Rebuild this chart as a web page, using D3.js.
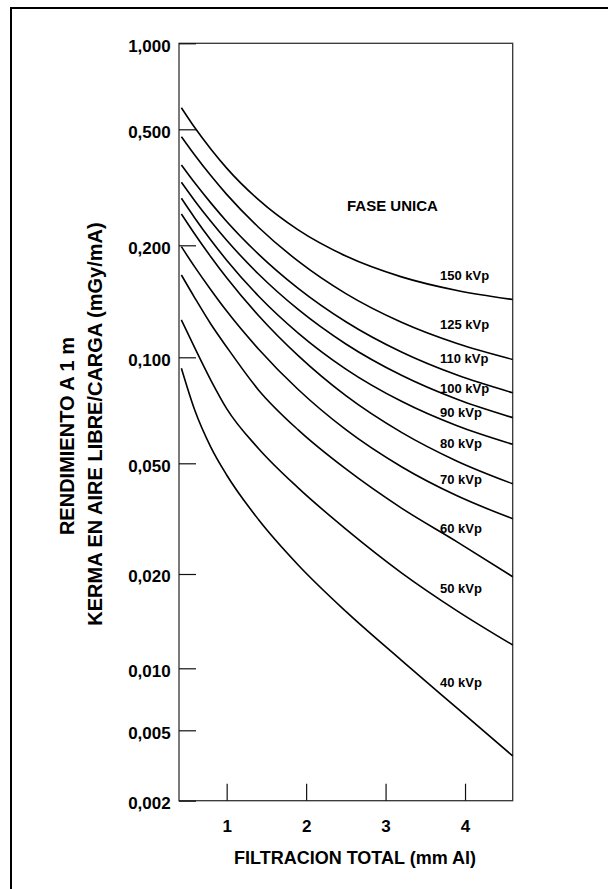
<!DOCTYPE html>
<html><head><meta charset="utf-8">
<script src="https://cdn.jsdelivr.net/npm/d3@7"></script>
<style>
body{margin:0;background:#fff}
svg{display:block}
text{font-family:"Liberation Sans",Arial,Helvetica,sans-serif;font-weight:bold;fill:#000}
</style></head><body>
<svg id="chart" width="608" height="889"></svg>
<script>
// ---------- DATA ----------
const filtration = [0.43, 0.6, 0.8, 1.0, 1.4, 1.9, 2.5, 3.2, 3.9, 4.6]; // mm Al
const kv150 = [0.595, 0.506, 0.428, 0.368, 0.2867, 0.2258, 0.1871, 0.1645, 0.1512, 0.1430];
const kv125 = [0.4716, 0.4072, 0.3468, 0.2990, 0.2307, 0.1813, 0.1483, 0.1242, 0.1089, 0.0986];
const kv110 = [0.3772, 0.3269, 0.2796, 0.2415, 0.1894, 0.1532, 0.1246, 0.1033, 0.0890, 0.0793];
const kv100 = [0.3290, 0.2840, 0.2418, 0.2081, 0.1675, 0.1345, 0.1086, 0.0889, 0.0760, 0.0674];
const kv90  = [0.2899, 0.2478, 0.2086, 0.1824, 0.1462, 0.1162, 0.0926, 0.0750, 0.0639, 0.0566];
const kv80  = [0.2561, 0.2182, 0.1863, 0.1635, 0.1295, 0.1010, 0.0778, 0.0612, 0.0507, 0.0422];
const kv70  = [0.1983, 0.1747, 0.1519, 0.1331, 0.1053, 0.0810, 0.0623, 0.0486, 0.0382, 0.0316];
const kv60  = [0.1664, 0.1443, 0.1229, 0.1066, 0.0808, 0.0622, 0.0477, 0.0345, 0.0261, 0.0196];
const kv50  = [0.1260, 0.1059, 0.0862, 0.0715, 0.0551, 0.0408, 0.0290, 0.0202, 0.01526, 0.01187];
const kv40  = [0.0931, 0.0706, 0.0556, 0.0454, 0.0314, 0.02155, 0.01519, 0.01060, 0.00640, 0.00358];
const seriesNames = ["150 kVp","125 kVp","110 kVp","100 kVp","90 kVp","80 kVp","70 kVp","60 kVp","50 kVp","40 kVp"];
const seriesValues = [kv150, kv125, kv110, kv100, kv90, kv80, kv70, kv60, kv50, kv40];

const yTicks = [1, 0.5, 0.2, 0.1, 0.05, 0.02, 0.01, 0.005, 0.002];
const yTickLabels = ["1,000","0,500","0,200","0,100","0,050","0,020","0,010","0,005","0,002"];
const xTicks = [1, 2, 3, 4];
const xTickLabels = ["1","2","3","4"];
const xDomain = [0.4, 4.6];

const xTitle = "FILTRACION TOTAL (mm Al)";
const yTitle1 = "RENDIMIENTO A 1 m";
const yTitle2 = "KERMA EN AIRE LIBRE/CARGA (mGy/mA)";
const noteText = "FASE UNICA";

// ---------- LAYOUT ----------
const plot = {left: 179, right: 512.7, top: 43.3, bottom: 800.7};
// the printed value axis is irregular: pixel position of each printed tick
const yTickPos = [43.3, 129.3, 245.3, 357.3, 463.3, 574, 668.3, 730.3, 800.7];
const labelX = 440;
const labelBaselines = [280, 329, 362.5, 393, 417, 447.5, 484, 532.7, 593.3, 687.3];

const svg = d3.select("#chart");

// page frame
svg.append("rect").attr("x", 11).attr("y", 8).attr("width", 700).attr("height", 1000)
  .attr("fill", "none").attr("stroke", "#000").attr("stroke-width", 2);

const x = d3.scaleLinear().domain(xDomain).range([plot.left, plot.right]);
const y = d3.scaleLog().domain(yTicks).range(yTickPos); // piecewise log

// plot box
svg.append("rect").attr("x", plot.left).attr("y", plot.top)
  .attr("width", plot.right - plot.left).attr("height", plot.bottom - plot.top)
  .attr("fill", "none").attr("stroke", "#333").attr("stroke-width", 1.3);

// y axis (inner ticks)
const yAxis = d3.axisLeft(y).tickValues(yTicks).tickSize(-17).tickSizeOuter(0)
  .tickFormat((d, i) => yTickLabels[i]).tickPadding(8.3);
const gy = svg.append("g").attr("transform", `translate(${plot.left},0)`).call(yAxis);
gy.select(".domain").remove();
gy.selectAll(".tick line").attr("stroke", "#111").attr("stroke-width", 1.2);
gy.selectAll(".tick text").attr("dy", null).attr("y", 7.8)
  .style("font-size", "17px").style("font-family", null).attr("fill", "#000");

// x axis (inner ticks)
const xAxis = d3.axisBottom(x).tickValues(xTicks).tickSize(-17).tickSizeOuter(0)
  .tickFormat((d, i) => xTickLabels[i]);
const gx = svg.append("g").attr("transform", `translate(0,${plot.bottom})`).call(xAxis);
gx.select(".domain").remove();
gx.selectAll(".tick line").attr("stroke", "#111").attr("stroke-width", 1.2);
gx.selectAll(".tick text").attr("dy", null).attr("y", 31.5)
  .style("font-size", "17px").style("font-family", null).attr("fill", "#000");

// curves
const line = d3.line().x(d => x(d[0])).y(d => y(d[1])).curve(d3.curveMonotoneX);
seriesValues.forEach((vals, i) => {
  svg.append("path")
    .datum(filtration.map((f, j) => [f, vals[j]]))
    .attr("d", line).attr("fill", "none").attr("stroke", "#000").attr("stroke-width", 1.6);
});

// curve labels
seriesNames.forEach((n, i) => {
  svg.append("text").attr("x", labelX).attr("y", labelBaselines[i])
    .style("font-size", "13px").text(n);
});

svg.append("text").attr("x", 347).attr("y", 211).style("font-size", "15px").text(noteText);

// axis titles
svg.append("text").attr("x", 355).attr("y", 864).attr("text-anchor", "middle")
  .style("font-size", "18px").text(xTitle);
svg.append("text").attr("transform", "translate(73.5,436) rotate(-90)").attr("text-anchor", "middle")
  .style("font-size", "20px").text(yTitle1);
svg.append("text").attr("transform", "translate(101.5,424) rotate(-90)").attr("text-anchor", "middle")
  .style("font-size", "20px").text(yTitle2);
</script>
</body></html>
